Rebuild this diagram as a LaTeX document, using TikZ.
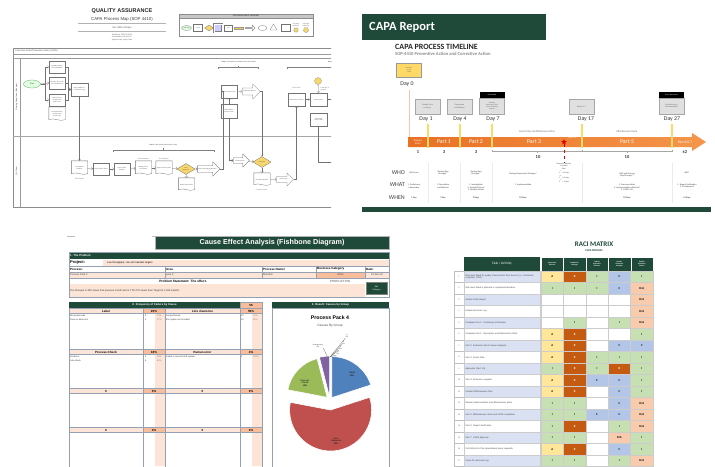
\documentclass[tikz,border=0pt]{standalone}
\usepackage{fontspec}
\setmainfont{Liberation Sans}
\newfontfamily\calibri{Carlito}
\usetikzlibrary{shapes.geometric}
\usetikzlibrary{shapes.arrows}

\definecolor{capagreen}{RGB}{31,73,57}
\definecolor{gold}{RGB}{247,214,110}
\definecolor{dayyellow}{RGB}{255,217,102}
\definecolor{barorange}{RGB}{233,113,35}
\definecolor{barlight}{RGB}{244,150,75}
\definecolor{lightpink}{RGB}{252,228,214}
\definecolor{salmon}{RGB}{248,190,155}
\definecolor{cellline}{RGB}{150,160,180}
\definecolor{pieblue}{RGB}{79,129,189}
\definecolor{piered}{RGB}{192,80,77}
\definecolor{piegreen}{RGB}{155,187,89}
\definecolor{piepurple}{RGB}{128,100,162}
\definecolor{raciA}{RGB}{255,230,153}
\definecolor{raciR}{RGB}{197,90,17}
\definecolor{raciI}{RGB}{198,224,180}
\definecolor{raciC}{RGB}{180,198,231}
\definecolor{raciRA}{RGB}{248,203,173}
\definecolor{racitask}{RGB}{217,225,242}

\newcommand\fsz[2]{\fontsize{#1}{#2}\selectfont}

\begin{document}
\begin{tikzpicture}[x=1pt, y=-1pt, line join=miter,
  every node/.style={inner sep=0pt},
  flowbox/.style={draw=black!55, line width=0.3pt, fill=white, minimum width=16pt, minimum height=12pt, text width=14pt, align=center, text=black!70, font=\fsz{1.5}{1.8}},
  flowdoc/.style={flowbox, draw=none},
  flowarrow/.style={single arrow, single arrow head extend=1pt, draw=black!55, line width=0.3pt, fill=white, minimum height=17pt, minimum width=14pt, align=center, text=black!70, font=\fsz{1.5}{1.8}},
  flowdecide/.style={diamond, draw=black!55, line width=0.3pt, fill=gold, minimum width=18pt, minimum height=11pt, align=center, text=black!70, font=\fsz{1.4}{1.7}},
  flowline/.style={draw=black!55, line width=0.3pt, arrows=->},
  docline/.style={draw=black!55, line width=0.3pt},
  note/.style={text=black!60, align=center, font=\fsz{1.6}{1.9}},
  greybox/.style={draw=black!35, fill=black!12, line width=0.3pt, minimum width=25pt, minimum height=15pt, align=center, text=black!60, font=\calibri\fsz{2}{2.4}},
  daylabel/.style={text=black!80, font=\calibri\fsz{5.8}{7}},
  onbar/.style={text=white, align=center, font=\calibri\fsz{5.8}{7}},
  capacol/.style={text=black!75, align=center, font=\calibri\fsz{2.2}{2.7}},
  rowlabel/.style={anchor=east, text=black!75, font=\calibri\fsz{6}{7}},
  fishhead/.style={fill=capagreen, text=white, font=\bfseries\fsz{2.8}{3.3}},
  cellhead/.style={draw=cellline, line width=0.3pt, minimum height=5pt, font=\bfseries\fsz{3}{3.5}},
  cellitem/.style={anchor=west, text=black!80, font=\fsz{2.2}{2.6}},
  slicetext/.style={align=center, text=black!85, font=\bfseries\fsz{2.2}{2.6}},
  zerolabel/.style={align=center, text=black!80, font=\fsz{1.8}{2.1}},
  racicell/.style={draw=black!20, line width=0.3pt, minimum width=22.4pt, minimum height=11.5pt, font=\calibri\bfseries\fsz{3}{3.5}},
  raci-A/.style={fill=raciA, node contents=A},
  raci-R/.style={fill=raciR, text=white, node contents=R},
  raci-I/.style={fill=raciI, node contents=I},
  raci-C/.style={fill=raciC, node contents=C},
  raci-RA/.style={fill=raciRA, node contents=R/A},
  raci-N/.style={fill=white, node contents={}}]

\fill[white] (0,0) rectangle (715,466);
\useasboundingbox (0,0) rectangle (715,466);

% ---------- process map ----------
\begin{scope}
\clip (0,0) rectangle (331,215);
\node[font=\bfseries\fsz{5.5}{6.5}, text=black!85] (qatitle) at (122,11) {QUALITY ASSURANCE};
\node[font=\fsz{4.3}{5}, text=black!75] (maptitle) at (122,19) {CAPA Process Map (SOP 4410)};
\draw[black!30, line width=0.3pt] (78,23) -- (166,23) (78,31) -- (166,31);
\node[font=\fsz{2.4}{2.8}, text=black!70] (mapver) at (122,27.5) {Ver. DEO 01Capo};
\node[font=\fsz{1.8}{2.2}, text=black!65, align=center] (mapsign) at (122,37.5) {Published: DEO 01/2023\\Reviewed by: Biota CCJ\\Approved by: Capo Pride};

% legend
\node[draw=black!45, line width=0.4pt, minimum width=134pt, minimum height=22pt] (legend) at (246,25) {};
\node[draw=black!45, fill=black!22, line width=0.3pt, minimum width=134pt, minimum height=4pt, text=black!70, font=\bfseries\fsz{2.2}{2.6}] (legendhead) at (246,16) {PROCESS MAP LEGEND};
\node[ellipse, draw=black!50, fill=green!12, line width=0.3pt, minimum width=10pt, minimum height=5pt, font=\fsz{1.2}{1.4}] (lgstart) at (186.5,28) {Start / End};
\node[flowbox, minimum width=9pt, minimum height=7pt, text width=8pt, font=\fsz{1.2}{1.4}] (lgproc) at (198,28) {Process};
\node[flowdecide, minimum width=9pt, minimum height=6pt] (lgdecide) at (209,28) {};
\node[draw=black!50, fill=blue!20, double, line width=0.3pt, minimum width=8pt, minimum height=8pt] (lgsub) at (218,28) {};
\node[flowbox, minimum width=8pt, minimum height=6pt, text width=7pt, font=\fsz{1.2}{1.4}] (lgdata) at (228.5,28) {Data};
\node[draw=black!40, fill=gold!80!orange, line width=0.3pt, minimum width=9pt, minimum height=2.5pt] (lgdelay) at (238.5,28) {};
\node[flowarrow, minimum height=10pt, minimum width=6pt] (lgsend) at (250,28) {};
\node[ellipse, draw=black!50, line width=0.3pt, minimum width=9pt, minimum height=5pt] (lgterm) at (262.5,28) {};
\node[regular polygon, regular polygon sides=3, draw=black!50, line width=0.3pt, minimum size=8pt] (lgmerge) at (273.5,28) {};
\node[flowbox, minimum width=9pt, minimum height=7pt, text width=8pt] (lgdoc) at (285.5,28) {};
\node[circle, draw=black!40, fill=gold, line width=0.3pt, minimum size=4.5pt] (lgon) at (296,30) {};
\node[regular polygon, regular polygon sides=5, shape border rotate=180, draw=black!40, fill=gold, line width=0.3pt, minimum size=5.5pt] (lgoff) at (306,30) {};
\node[note] (lgontext) at (296,24.5) {On-page\\reference};
\node[note] (lgofftext) at (306,24.5) {Off-page\\reference};

% swimlanes
\draw[black!45, line width=0.4pt] (13,48) rectangle (345,207);
\draw[black!40, line width=0.3pt] (13,54) -- (345,54) (13,58) -- (345,58) (20,58) -- (20,207);
\draw[black!35, line width=0.9pt] (13,136) -- (345,136);
\node[anchor=west, text=black!70, font=\fsz{2.2}{2.6}] (lanehead) at (15,51) {Corrective Action/Preventive Action (CAPA)};
\node[rotate=90, text=black!70, font=\fsz{2}{2.4}] (lane1) at (16.5,97) {Owning Department Manager};
\node[rotate=90, text=black!70, font=\fsz{2}{2.4}] (lane2) at (16.5,171) {QA Team};

\node[ellipse, draw=green!40!black!60, fill=green!12, line width=0.3pt, minimum width=17pt, minimum height=8pt, text=black!70, font=\fsz{2}{2.4}] (start) at (32,84) {Start};
\node[flowbox] (b1) at (57,67) {Complete Preliminary Information};
\node[flowbox] (b2) at (57,83) {Describe the Problem and Rational};
\node[flowbox] (b3) at (57,100) {Select Source of CAPA and Risk Level};
\node[flowdoc, minimum height=14pt] (b4) at (57,114) {Pre-assessment of Risk Level (Level 1--3)};
\node[flowbox, minimum width=17pt, minimum height=13pt] (b5) at (79.5,89.5) {Issue CAPA No. in Electronic Log};

\node[flowdoc, minimum height=14pt] (d1) at (79.5,168) {Investigation Request};
\node[note] (d1note) at (79.5,178.5) {Risk Review};
\node[flowbox] (b6) at (101,169) {Form Review Team};
\node[flowbox] (b7) at (122,169) {Root Cause Analysis};
\node[flowdoc, minimum height=14pt] (d2) at (143.5,168) {Identify Potential Causes};
\node[flowdoc, minimum height=14pt] (d3) at (164,168) {Propose Action Plan};
\node[note] (d2note) at (143.5,159) {Risk Evaluation};
\node[note] (d3note) at (164,159) {Risk Register};
\node[flowdecide] (g1) at (186,169) {Plan\\approved?};
\node[flowdoc, minimum height=13pt] (d4) at (186.5,184.5) {Revise Action Plan};
\node[flowarrow] (a1) at (207,169) {Send to Owning Department};

\node[flowbox, minimum height=13pt] (b8) at (229,91.5) {Review Action Plan};
\node[flowarrow, minimum height=18pt, minimum width=15pt] (a2) at (249.5,91.5) {Implement Actions};
\node[flowbox, minimum height=14pt] (b9) at (229,111) {Define Effectiveness Plan};
\node[flowarrow, minimum height=16pt, minimum width=13pt] (a3) at (240,160.5) {Execute Plan};
\node[flowdecide] (g2) at (262,162) {Effective?};
\node[flowdoc, minimum height=13pt] (d5) at (262,179.5) {Document Results};
\node[note] (d5note) at (262,190) {Documentation};
\node[flowarrow, minimum height=17pt, minimum width=13pt] (a4) at (283.5,179.5) {Send to QA};

\node[flowbox, minimum width=17pt, minimum height=13pt] (b10) at (296.5,99.5) {Effectiveness Check};
\node[note] (b10note) at (296.5,88) {Action Plan};
\node[circle, draw=black!40, fill=gold, line width=0.3pt, minimum size=7pt] (c1) at (318,81) {};
\node[flowbox, minimum width=17pt, minimum height=13pt] (b11) at (318.5,99.5) {Review Data};
\node[note, anchor=west, align=left] (b11note) at (320.5,89) {Extension if\\needed};
\node[flowbox, minimum width=17pt, minimum height=13pt] (b12) at (318.5,119.5) {Verify and Close CAPA};
\coordinate (edge1) at (340,99.5);
\coordinate (edge2) at (340,162);

% document outlines
\foreach \d in {b4,d1,d2,d3,d4,d5}
  \draw[docline] (\d.north west) -- (\d.north east) -- ([yshift=1.5pt]\d.south east)
    .. controls +(-5,2.5) and +(5,-2.5) .. ([yshift=1.5pt]\d.south west) -- cycle;

\draw[flowline] (start.east) -- ++(4.5,0) |- (b1.west);
\draw[flowline] (start.east) -- (b2.west);
\draw[flowline] (start.east) -- ++(4.5,0) |- (b3.west);
\draw[flowline] (b1.east) -- ++(3,0) |- (b5.west);
\draw[flowline] (b2.east) -- ++(3,0) |- (b5.west);
\draw[flowline] (b3.east) -- ++(3,0) |- (b5.west);
\draw[flowline] (b5) -- (d1);
\draw[flowline] (d1) -- (b6);
\draw[flowline] (b6) -- (b7);
\draw[flowline] (b7) -- (d2);
\draw[flowline] (d2) -- (d3);
\draw[flowline] (d3) -- (g1);
\draw[flowline] (g1) -- (a1);
\draw[flowline] (g1) -- (d4);
\draw[flowline] (a1.east) -- ++(3,0) |- (b8.west);
\draw[flowline] (b9) -- (b8);
\draw[flowline] (b8) -- (a2);
\draw[flowline] (b9.south) |- (a3.west);
\draw[flowline] (a2.east) -| (g2.north);
\draw[flowline] (a3) -- (g2);
\draw[flowline] (g2) -- (d5);
\draw[flowline] (d5) -- (a4);
\draw[flowline] (a4.east) -| (b10.south);
\draw[flowline] (b10) -- (b11);
\draw[flowline] (c1) -- (b11);
\draw[flowline] (b11) -- (edge1);
\draw[flowline] (b12.south) |- (edge2);

% part brackets
\draw[black!50, line width=0.3pt] (113,152) -- (113,150) -- (214,150) -- (214,152) (163.5,150) -- (163.5,148);
\node[note, text=black!75] (part2) at (163.5,145.5) {\textbf{Part 2:} Root Cause Information (Loop)};
\draw[black!50, line width=0.3pt] (218,69) -- (218,67) -- (258,67) -- (258,69) (238,67) -- (238,65.5);
\node[note, text=black!75] (part1) at (239,62) {\textbf{Part 1:} Description and Rational for the Problem};
\draw[black!50, line width=0.3pt] (287,69) -- (287,67) -- (345,67);
\node[note, anchor=west, text=black!75] (part3) at (328,62) {\textbf{Part 3:} Action Plan};
\end{scope}

% ---------- timeline ----------
\fill[capagreen] (362,14) rectangle (546,40);
\node[anchor=west, text=white, font=\calibri\bfseries\fsz{12.5}{15}] (capareport) at (369,27.5) {CAPA Report};
\node[anchor=west, text=black!85, font=\calibri\bfseries\fsz{8}{9.5}] (timelinetitle) at (395,46.5) {CAPA PROCESS TIMELINE};
\node[anchor=west, text=black!45, font=\calibri\bfseries\fsz{4.6}{5.5}] (timelinesub) at (395,54) {SOP-4410 Preventive Action and Corrective Action};

\node[draw=black!40, fill=dayyellow, line width=0.3pt, minimum width=25pt, minimum height=14pt, align=center, text=black!60, font=\calibri\fsz{1.8}{2.2}] (day0box) at (409,70) {Revision\\or Init\\CAPA};
\node[daylabel] (day0) at (407,84) {Day 0};
\draw[barorange!40, line width=1pt] (day0box.south |- 0,90) -- (day0box.south |- 0,137);

\node[greybox] (day1box) at (427.5,106.5) {Provide Form\\to Owner};
\node[greybox] (day4box) at (459.5,106.5) {Description\\and Rational};
\node[greybox, minimum height=16pt, font=\calibri\fsz{1.8}{2.1}] (day7box) at (492,106) {Problem\\Statement, Root\\Cause \& Identify\\Actions};
\node[fill=black, minimum width=25pt, minimum height=6pt, text=white, font=\calibri\fsz{1.6}{2}] (day7tag) at (492,95) {EVALUATION};
\node[greybox] (day17box) at (581.5,106.5) {Review 1-3};
\node[greybox, minimum height=16pt] (day27box) at (671.5,106) {Evaluation and\\Documentation};
\node[fill=black, minimum width=25pt, minimum height=6pt, text=white, font=\calibri\fsz{1.4}{2}] (day27tag) at (671.5,95) {EFFECTIVENESS CHECK};
\node[daylabel] (day1) at (426,119) {Day 1};
\node[daylabel] (day4) at (460,119) {Day 4};
\node[daylabel] (day7) at (493,119) {Day 7};
\node[daylabel] (day17) at (586,119) {Day 17};
\node[daylabel] (day27) at (672,119) {Day 27};

% arrow bar
\shade[left color=barorange, right color=barlight] (408,137) -- (692,137) -- (692,133) -- (706,142) -- (692,151) -- (692,147) -- (408,147) -- cycle;
\foreach \xx in {428,460,492,582,672}
  \draw[dayyellow, line width=1.3pt] (\xx,124) -- (\xx,147.5);
\node[onbar, font=\calibri\fsz{2.6}{3}] (prepare) at (418,142) {Prepare\\Form};
\node[onbar] (part1bar) at (444,142) {Part 1};
\node[onbar] (part2bar) at (476,142) {Part 2};
\node[onbar] (part3bar) at (534,142) {Part 3};
\node[onbar, font=\calibri\fsz{3}{3.5}] (part4bar) at (572,138) {Part 4};
\node[onbar] (part5bar) at (627,142) {Part 5};
\node[onbar, font=\calibri\fsz{3.6}{4.2}] (part67bar) at (685,142) {Part 6 \& 7};
\node[star, star points=5, star point ratio=2.3, fill=red!85!black, minimum size=6pt] (star) at (564,142) {};
\node[text=black!60, font=\calibri\fsz{2.6}{3}] (planlabel) at (537,132) {Action Plan and Effectiveness Plan};
\node[text=black!60, font=\calibri\fsz{2.6}{3}] (checklabel) at (627,132) {Effectiveness Check};

\node[text=black!80, font=\calibri\bfseries\fsz{4.5}{5.5}] (len1) at (418,152.5) {1};
\node[text=black!80, font=\calibri\bfseries\fsz{4.5}{5.5}] (len2) at (444,152.5) {3};
\node[text=black!80, font=\calibri\bfseries\fsz{4.5}{5.5}] (len3) at (476,152.5) {3};
\node[text=black!80, font=\calibri\bfseries\fsz{4.5}{5.5}] (len4) at (538,157) {10};
\node[text=black!80, font=\calibri\bfseries\fsz{4.5}{5.5}] (len5) at (627,157) {10};
\node[text=black!80, font=\calibri\bfseries\fsz{4.5}{5.5}] (len6) at (685,152.5) {±2};
\draw[black!35, line width=0.3pt] (492,149.5) -- (492,151.5) -- (672,151.5) -- (672,149.5) (582,149.5) -- (582,151.5) (537,151.5) -- (537,153) (627,151.5) -- (627,153);

\coordinate (extend) at (564,162);
\draw[red!80!black, dashed, line width=0.4pt] (star) -- (extend);
\node[capacol, font=\calibri\fsz{1.9}{2.4}] (extendnote) at (564,173) {Request Extension\\if needed\\(Day )\\[0.4pt]1\textsuperscript{st} = 15 days\\2\textsuperscript{nd} = 10 days\\3\textsuperscript{rd} = \ 5 days};

\foreach \xx in {428,460,492,582,672}
  \draw[black!8, line width=0.4pt] (\xx,163) -- (\xx,203);
\node[rowlabel] (who) at (405,173) {WHO};
\node[rowlabel] (what) at (405,185) {WHAT};
\node[rowlabel] (when) at (405,197.5) {WHEN};
\node[capacol] (who1) at (414,172.5) {QA Person};
\node[capacol] (who2) at (443,173) {Owning Dep\\Manager*};
\node[capacol] (who3) at (476,173) {Owning Dep\\Manager*};
\node[capacol] (who4) at (523,174) {Owning Department Manager*};
\node[capacol] (who5) at (627,175) {QAP and Owning\\Dep Manager*};
\node[capacol] (who6) at (687,173) {QAP*};
\node[capacol] (what1) at (414,186) {1. Preliminary\\Information};
\node[capacol] (what2) at (443,186) {1. Description\\and Rational};
\node[capacol] (what3) at (476,187.5) {1. Investigation\\2. Potential Causes\\3. Identify Actions};
\node[capacol] (what4) at (523,185) {1. Implementation};
\node[capacol] (what5) at (627,187.5) {1. Documentation\\2. Implementation effective?\\3. CAPA? Y/N};
\node[capacol] (what6) at (687,186) {1. Report Verification\\2. ZIN Approval};
\node[capacol, font=\calibri\bfseries\fsz{2.2}{2.7}] (when1) at (414,198) {1 Day};
\node[capacol, font=\calibri\bfseries\fsz{2.2}{2.7}] (when2) at (443,198) {3 Day};
\node[capacol, font=\calibri\bfseries\fsz{2.2}{2.7}] (when3) at (476,198) {3 Days};
\node[capacol, font=\calibri\bfseries\fsz{2.2}{2.7}] (when4) at (523,198) {10 Days};
\node[capacol, font=\calibri\bfseries\fsz{2.2}{2.7}] (when5) at (627,198) {10 Days};
\node[capacol, font=\calibri\bfseries\fsz{2.2}{2.7}] (when6) at (687,198) {±2 Days};
\fill[capagreen] (362,207) rectangle (711,212);

% ---------- cause and effect sheet ----------
\draw[black!25, line width=0.8pt] (67,236) -- (75,236) (152,236) -- (158,236);
\node[fill=capagreen, draw=black!30, line width=0.3pt, minimum width=234pt, minimum height=13pt, text=white, font=\bfseries\fsz{7.2}{8.5}] (fishtitle) at (272,242.5) {Cause Effect Analysis (Fishbone Diagram)};

\node[fill=capagreen, minimum width=320pt, minimum height=7pt] (problemhead) at (229,255.5) {};
\node[anchor=west, text=white, font=\bfseries\fsz{2.8}{3.3}] (problemtitle) at (70,255.5) {1. The Problem};
\fill[lightpink] (103,259.5) rectangle (389,265.5);
\fill[lightpink] (69,272) rectangle (316,278) (365,272) rectangle (389,278) (69,284) rectangle (365,297);
\fill[salmon] (316,272) rectangle (365,278);
\draw[cellline, line width=0.3pt] (69,266) -- (389,266) (69,272) -- (389,272) (69,278) -- (389,278)
  (165,266) -- (165,278) (262,266) -- (262,278) (316,266) -- (316,278) (365,266) -- (365,278);
\draw[cellline, line width=0.4pt] (69,252) rectangle (389,297);
\node[anchor=west, font=\bfseries\fsz{4}{4.8}] (project) at (70,262.5) {Project:};
\node[anchor=west, font=\fsz{2.5}{3}] (projectval) at (107,262.5) {Low throughput, can not maintain targets};
\node[anchor=west, font=\bfseries\fsz{3}{3.6}] (process) at (70,269) {Process:};
\node[anchor=west, font=\bfseries\fsz{3}{3.6}] (area) at (166,269) {Area};
\node[anchor=west, font=\bfseries\fsz{3}{3.6}] (owner) at (263,269) {Process Owner};
\node[anchor=west, font=\bfseries\fsz{3}{3.6}] (category) at (317,269) {Business Category};
\node[anchor=west, font=\bfseries\fsz{3}{3.6}] (date) at (366,269) {Date:};
\node[anchor=west, text=black!75, font=\fsz{2.5}{3}] (processval) at (70,275) {Process Pack 4};
\node[anchor=west, text=black!75, font=\fsz{2.5}{3}] (areaval) at (166,275) {pack 4};
\node[anchor=west, text=black!75, font=\fsz{2.5}{3}] (ownerval) at (263,275) {Mandish};
\node[text=black!75, font=\fsz{2.5}{3}] (categoryval) at (340.5,275) {Other};
\node[text=black!75, font=\fsz{2.5}{3}] (dateval) at (377,275) {31-Dec-22};
\node[font=\bfseries\fsz{3.2}{3.8}] (statement) at (183,281) {Problem Statement: The effect.};
\node[text=black!65, font=\fsz{3}{3.6}] (production) at (340,281) {PRODUCTION};
\node[anchor=west, text=black!80, font=\fsz{2.5}{3}] (effect) at (70,290.5) {The throuput is 35\% lower that previous month and is YTD 27\% lower than Target at 1,230 units/hr.};
\node[fill=capagreen, draw=black!50, line width=0.3pt, minimum width=21pt, minimum height=12pt, align=center, text=white, font=\fsz{2}{2.4}] (editcat) at (376.5,288.5) {Edit\\Category};

% frequency table
\fill[lightpink] (155,308) rectangle (165,466) (252,308) rectangle (262,466);
\node[fishhead, minimum width=171pt, minimum height=6pt] (freqhead) at (154.5,305) {2. Frequency of Failure by Cause};
\node[fill=salmon, draw=cellline, line width=0.3pt, minimum width=22pt, minimum height=6pt, font=\bfseries\fsz{3}{3.5}] (freqtotal) at (251,305) {56};
\foreach \xx in {69,143,165,240,262}
  \draw[cellline, line width=0.3pt] (\xx,308) -- (\xx,470);
\foreach \y/\ga/\pa/\gb/\pb [count=\k] in {311/Label/20\%/Line clearence/59\%, 352/Process Check/18\%/Human error/4\%, 391/0/0\%/0/0\%, 430/0/0\%/0/0\%}
{
  \node[cellhead, fill=lightpink, minimum width=74pt] (grp-\k-a) at (106,\y) {\ga};
  \node[cellhead, fill=salmon, minimum width=22pt] (pct-\k-a) at (154,\y) {\pa};
  \node[cellhead, fill=lightpink, minimum width=75pt] (grp-\k-b) at (202.5,\y) {\gb};
  \node[cellhead, fill=salmon, minimum width=22pt] (pct-\k-b) at (251,\y) {\pb};
}
\foreach \xx/\y/\txt/\cnt/\pc [count=\k] in {70/316/Wrong barcode/8/73\%, 70/319.5/Pack on date error/3/27\%, 166/316/Not performed/23/70\%, 166/319.5/ES system not recorded/10/30\%, 70/357/Not done/4/40\%, 70/360.5/Late check/6/60\%, 166/357/Failed to record in ES system/2/100\%}
{
  \node[cellitem] (item-\k) at (\xx,\y) {\txt};
  \node[cellitem] (count-\k) at ({\xx+75},\y) {\cnt};
  \node[cellitem, text=black!50] (share-\k) at ({\xx+87},\y) {\pc};
}

% chart
\node[fishhead, minimum width=117pt, minimum height=6pt] (charthead) at (330.5,305) {3. Result: Causes by Group};
\draw[cellline, line width=0.4pt] (272,308) rectangle (389,470);
\node[font=\bfseries\fsz{5.2}{6.2}] (charttitle) at (330,318) {Process Pack 4};
\node[text=black!70, font=\fsz{3.2}{3.8}] (chartsub) at (330,326) {Causes By Group};
\begin{scope}[shift={(330,400)}, y=1pt]
  \fill[pieblue, draw=white, line width=0.6pt] (1.8,2.4) -- ++(90:41) arc[start angle=90, end angle=18, radius=41] -- cycle;
  \fill[piered, draw=white, line width=0.6pt] (0.6,-10) -- ++(18:41) arc[start angle=18, end angle=-190.8, radius=41] -- cycle;
  \fill[piegreen, draw=white, line width=0.6pt] (-2.9,2.7) -- ++(169.2:40) arc[start angle=169.2, end angle=104.4, radius=40] -- cycle;
  \fill[piepurple, draw=white, line width=0.6pt] (-0.4,3) -- ++(104.4:41) arc[start angle=104.4, end angle=90, radius=41] -- cycle;
  \node[slicetext] (labelslice) at (22,26) {Label\\20\%};
  \node[slicetext] (checkslice) at (-25,17) {Process\\Check\\18\%};
  \node[slicetext] (lineslice) at (6,-41) {Line\\clearence\\59\%};
  \coordinate (pietop) at (0,43);
  \node[zerolabel] (zero-1) at (17,64) {0\\0\%};
  \node[zerolabel] (zero-2) at (13.5,57.5) {0\\0\%};
  \node[zerolabel] (zero-3) at (10.5,52) {0\\0\%};
  \node[zerolabel] (zero-4) at (8,47) {0\\0\%};
  \node[zerolabel] (humanslice) at (-12,54) {Human error\\4\%};
  \foreach \z in {zero-1,zero-2,zero-3,zero-4}
    \draw[black!60, line width=0.25pt] (pietop) -- (\z.south west);
  \draw[black!60, line width=0.25pt] (-3,44) -- (humanslice.south east);
\end{scope}

% ---------- RACI matrix ----------
\node[text=capagreen, font=\calibri\bfseries\fsz{7}{8}] (racititle) at (594,244) {RACI MATRIX};
\node[text=capagreen, font=\calibri\bfseries\fsz{2.8}{3.2}] (racisub) at (594,250.5) {CAPA PROCESS};
\node[fill=capagreen, minimum width=76pt, minimum height=14pt, text=white, font=\calibri\fsz{3.5}{4}] (raciheadtask) at (502,264) {Task / Activity};
\foreach \role [count=\k] in {{Production\\Director}, {Production\\Manager}, {Quality\\Assurance\\Director}, {Quality\\Assurance\\Manager}, {Quality\\Assurance\\Person}}
  \node[fill=capagreen, draw=white, line width=0.2pt, minimum width=22.4pt, minimum height=14pt, align=center, text=white, font=\calibri\bfseries\fsz{1.8}{2.2}] (role-\k) at ({529.8+22.4*\k},264) {\role};
\foreach \task/\ca/\cb/\cc/\cd/\ce [count=\n] in {
  {Risk level failed for quality characteristic from Source (i.e. Stochastic, complaint, OOS)}/A/R/I/C/I,
  {Risk level failed in planned or unplanned deviation}/I/I/I/C/RA,
  {Initiate CAPA Report}/N/N/N/N/RA,
  {Initiate electronic Log}/N/N/N/N/RA,
  {Complete Part 1: Preliminary Information}/N/I/N/I/RA,
  {Complete Part 1: Description and Rational for CAPA}/A/R/N/N/I,
  {Part 2: Evaluation (Root Cause Analysis)}/A/R/N/C/C,
  {Part 3: Action Plan}/A/R/I/I/I,
  {Approvals (Part 1-3)}/I/R/I/R/I,
  {Part 4: Extension requests}/A/R/C/C/I,
  {Conduct Effectiveness Plan}/A/R/N/C/I,
  {Review implementation and effectiveness plans}/I/I/N/C/RA,
  {Part 5: Effectiveness check and CAPA completion}/I/I/C/C/RA,
  {Part 6: Report Verification}/I/R/N/I/RA,
  {Part 7: CAPA Approval}/I/I/N/RA/I,
  {CoP/Article for File (amendment when required)}/A/R/N/C/I,
  {Close D1 electronic log}/I/I/N/I/RA}
{
  \ifodd\n\relax \def\rowfill{racitask}\else \def\rowfill{white}\fi
  \node[draw=black!25, line width=0.3pt, minimum width=10pt, minimum height=11.5pt, text=black!60, font=\fsz{2}{2.4}] (num-\n) at (459,{265.25+11.5*\n}) {\n};
  \node[draw=black!20, line width=0.3pt, fill=\rowfill, minimum width=76pt, minimum height=11.5pt, text width=73pt, inner xsep=1.5pt, align=left, text=black!75, font=\fsz{2.2}{2.6}] (task-\n) at (502,{265.25+11.5*\n}) {\task};
  \foreach \v [count=\k] in {\ca,\cb,\cc,\cd,\ce}
    \node (raci-\n-\k) [racicell, raci-\v, at={({529.8+22.4*\k},{265.25+11.5*\n})}];
}
\end{tikzpicture}
\end{document}
